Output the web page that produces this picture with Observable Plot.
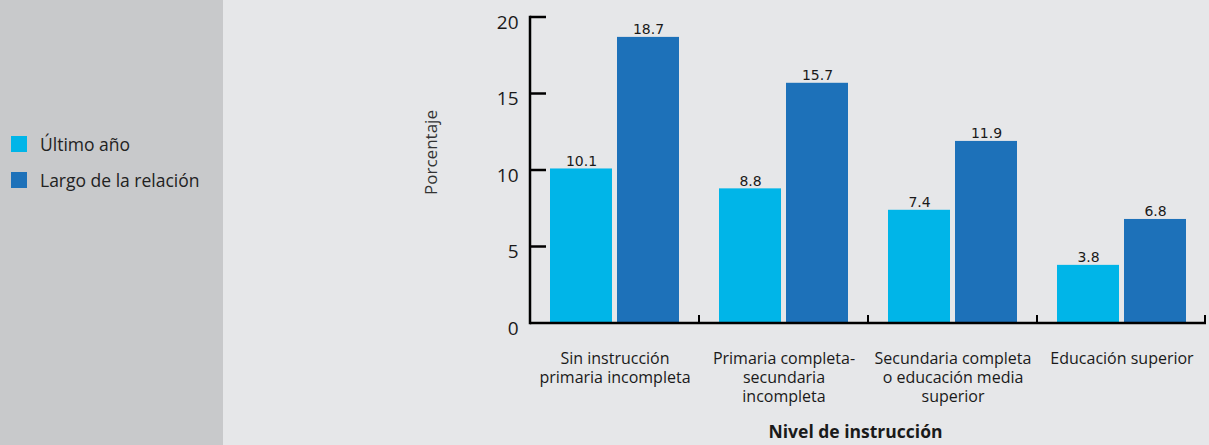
<!DOCTYPE html>
<html>
<head>
<meta charset="utf-8">
<script src="https://cdn.jsdelivr.net/npm/d3@7"></script>
<script src="https://cdn.jsdelivr.net/npm/@observablehq/plot@0.6"></script>
<style>
  html, body { margin: 0; padding: 0; }
  body { width: 1209px; height: 445px; background: #e6e7e9; position: relative; overflow: hidden;
         font-family: "Open Sans", sans-serif; color: #1a1a1a; }
  #side { position: absolute; left: 0; top: 0; width: 223px; height: 445px; background: #c8c9cb; }
  .key { position: absolute; left: 11px; display: flex; align-items: center; font-size: 17.5px; color: #222; }
  .key span.sw { width: 16px; height: 16px; margin-right: 13px; display: inline-block; }
  #chart { position: absolute; left: 0; top: 0; }
</style>
</head>
<body>
<div id="side"></div>
<div id="legend"></div>
<div id="chart"></div>
<script>
// Porcentaje por nivel de instrucción, según periodo de referencia
const categories = [
  "Sin instrucción primaria incompleta",
  "Primaria completa-secundaria incompleta",
  "Secundaria completa o educación media superior",
  "Educación superior"
];
const categoryLabels = [
  "Sin instrucción\nprimaria incompleta",
  "Primaria completa-\nsecundaria\nincompleta",
  "Secundaria completa\no educación media\nsuperior",
  "Educación superior"
];
const series = ["Último año", "Largo de la relación"];
const ultimoAnio = [10.1, 8.8, 7.4, 3.8];
const largoRelacion = [18.7, 15.7, 11.9, 6.8];
const yTicks = [0, 5, 10, 15, 20];
const colors = ["#00b5e8", "#1d71b9"];

const rows = categories.flatMap((c, i) => [
  {categoria: c, serie: series[0], valor: ultimoAnio[i]},
  {categoria: c, serie: series[1], valor: largoRelacion[i]}
]);

// legend in the side panel
const legend = document.getElementById("legend");
series.forEach((s, i) => {
  const d = document.createElement("div");
  d.className = "key";
  d.style.top = (135 + i * 36) + "px";
  d.style.height = "17px";
  d.innerHTML = `<span class="sw" style="background:${colors[i]}"></span>${s}`;
  legend.appendChild(d);
});

// axis lines and tick marks, drawn once over the whole frame from the plot's scales
class Axes extends Plot.Mark {
  constructor() {
    super(undefined, {}, {facet: "super"});
  }
  render(index, scales, values, dims) {
    const {y, fx} = scales;
    const g = d3.create("svg:g").attr("stroke", "#000").attr("fill", "none");
    const left = dims.marginLeft, right = dims.width - dims.marginRight;
    const y0 = y(0);
    g.append("line").attr("x1", left).attr("x2", right).attr("y1", y0).attr("y2", y0).attr("stroke-width", 2.5);
    g.append("line").attr("x1", left).attr("x2", left).attr("y1", y(20) - 1.2).attr("y2", y0 + 1.2).attr("stroke-width", 2.5);
    for (const t of yTicks) {
      if (t === 0) continue;
      g.append("line").attr("x1", left).attr("x2", left + 16).attr("y1", y(t)).attr("y2", y(t)).attr("stroke-width", 2.5);
    }
    const bw = fx.bandwidth ? fx.bandwidth() : (right - left) / categories.length;
    for (const c of categories) {
      const xb = Math.min(fx(c) + bw, right - 1);
      g.append("line").attr("x1", xb).attr("x2", xb).attr("y1", y0).attr("y2", y0 - 8).attr("stroke-width", 2);
    }
    return g.node();
  }
}

const chart = Plot.plot({
  width: 1209,
  height: 445,
  marginLeft: 529,
  marginRight: 2,
  marginTop: 17,
  marginBottom: 122,
  style: {background: "transparent", fontFamily: "Open Sans, sans-serif", color: "#1a1a1a"},
  fx: {domain: categories, padding: 0, label: null},
  x: {domain: series, paddingInner: 0.074, paddingOuter: 0.296, axis: null},
  y: {domain: [0, 20], label: null, axis: null},
  color: {domain: series, range: colors},
  marks: [
    Plot.barY(rows, {fx: "categoria", x: "serie", y: "valor", fill: "serie"}),
    Plot.text(rows, {
      fx: "categoria", x: "serie", y: "valor", text: d => d.valor.toFixed(1),
      lineAnchor: "bottom", dy: -3, fontSize: 14, fontFamily: "DejaVu Sans", fill: "#1a1a1a"
    }),
    Plot.axisY({ticks: yTicks, tickSize: 0, tickPadding: 12, dy: 5, fontSize: 19, label: null, fill: "#1a1a1a"}),
    Plot.axisFx({
      anchor: "bottom", tickSize: 0, tickPadding: 27, fontSize: 16, lineHeight: 1.19, label: null,
      tickFormat: c => categoryLabels[categories.indexOf(c)], fill: "#1a1a1a"
    }),
    Plot.text(["Porcentaje"], {
      facet: "super", frameAnchor: "left", textAnchor: "middle", rotate: -90, dx: -99, dy: -18, fontSize: 17, fill: "#333"
    }),
    Plot.text(["Nivel de instrucción"], {
      facet: "super", frameAnchor: "bottom", dx: -13, dy: 114, fontSize: 17.5, fontWeight: "bold", fill: "#1a1a1a"
    }),
    new Axes()
  ]
});
document.getElementById("chart").appendChild(chart);
</script>
</body>
</html>
